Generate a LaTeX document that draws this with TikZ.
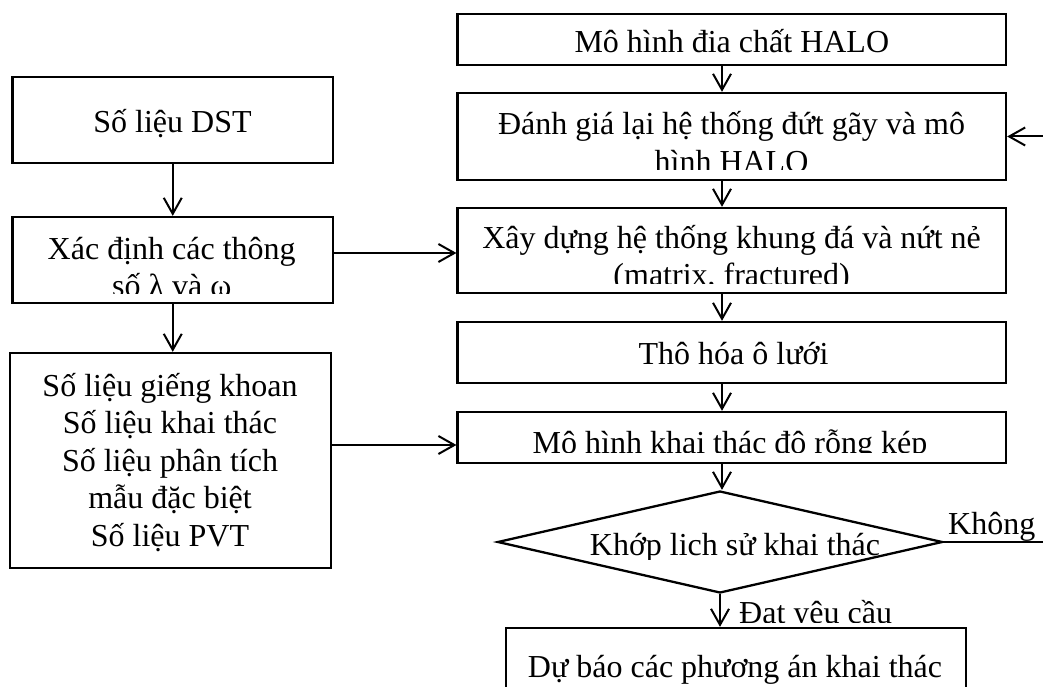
\documentclass[tikz,border=0pt]{standalone}
\usepackage{fontspec}
\setmainfont{Liberation Serif}
\usetikzlibrary{arrows.meta,shapes.geometric}
\begin{document}
\begin{tikzpicture}[x=1pt,y=-1pt,
  box/.style 2 args={draw,line width=2.3pt,inner sep=0pt,minimum width=#1pt,minimum height=#2pt},
  txt/.style={inner sep=0pt,anchor=base,font=\fontsize{32}{37.5}\selectfont},
  arr/.style={line width=2pt,-{Straight Barb[length=16pt,width=18pt,line width=2pt]}},
  ln/.style={line width=2pt}]
\useasboundingbox (0,0) rectangle (1043,687);
\clip (0,0) rectangle (1043,687);
% right column boxes
\node[box={548.4}{51}] (b1) at (731.8,39.5) {};
\node[box={548.4}{87}] (b2) at (731.8,136.5) {};
\node[box={548.4}{85}] (b3) at (731.8,250.5) {};
\node[box={548.4}{61}] (b4) at (731.8,352.5) {};
\node[box={548.4}{51}] (b5) at (731.8,437.5) {};
\node[draw,diamond,line width=2.3pt,inner sep=0pt,minimum width=445pt,minimum height=102pt] (dia) at (720,542) {};
\node[box={460}{112}] (fin) at (736,684) {};
% left column boxes
\node[box={320.5}{86}] (l1) at (172.75,120) {};
\node[box={320.5}{86}] (l2) at (172.75,260) {};
\node[box={321}{215}] (l3) at (170.5,460.5) {};
% texts
\node[txt] (t1) at (731.8,53) {Mô hình đia chất HALO};
\node[txt] (t2a) at (731.5,135) {Đánh giá lại hệ thống đứt gãy và mô};
\begin{scope}
\clip (457.6,93) rectangle (1006,170);
\node[txt] (t2b) at (731.5,172) {hình HALO};
\end{scope}
\node[txt] (t3a) at (731.6,248) {Xây dựng hệ thống khung đá và nứt nẻ};
\begin{scope}
\clip (457.6,208) rectangle (1006,283);
\node[txt] (t3b) at (731.6,285) {(matrix, fractured)};
\end{scope}
\node[txt] (t4) at (733.5,364) {Thô hóa ô lưới};
\begin{scope}
\clip (457.6,412) rectangle (1006,452);
\node[txt] (t5) at (730,453) {Mô hình khai thác đô rỗng kép};
\end{scope}
\begin{scope}
\clip (497,491) rectangle (942,559);
\node[txt] (t6) at (735,555) {Khớp lich sử khai thác};
\end{scope}
\node[txt] (t7) at (735,677) {Dự báo các phương án khai thác};
\node[txt] (l1t) at (172.5,133) {Số liệu DST};
\node[txt] (l2a) at (171.7,259) {Xác định các thông};
\begin{scope}
\clip (12.5,217) rectangle (333,293);
\node[txt] (l2b) at (171.7,296.5) {số λ và ω};
\end{scope}
\node[txt] (l3a) at (170,396) {Số liệu giếng khoan};
\node[txt] (l3b) at (170,433.5) {Số liệu khai thác};
\node[txt] (l3c) at (170,471) {Số liệu phân tích};
\node[txt] (l3d) at (170,508.5) {mẫu đặc biệt};
\node[txt] (l3e) at (170,546) {Số liệu PVT};
% labels
\begin{scope}
\clip (730,590) rectangle (1043,622);
\node[txt,anchor=base west] (ok) at (739,623) {Đat yêu cầu};
\end{scope}
\begin{scope}
\clip (942,490) rectangle (1043,541);
\node[txt,anchor=base west] (no) at (948,534) {Không};
\end{scope}
% connectors
\coordinate (ax) at (722,0);
\coordinate (ay1) at (0,253);
\coordinate (ay2) at (0,445);
\draw[arr] (b1.south -| ax) -- (b2.north -| ax);
\draw[arr] (b2.south -| ax) -- (b3.north -| ax);
\draw[arr] (b3.south -| ax) -- (b4.north -| ax);
\draw[arr] (b4.south -| ax) -- (b5.north -| ax);
\draw[arr] (b5.south -| ax) -- (dia.north -| ax);
\draw[arr] (dia.south) -- (fin.north -| dia.south);
\draw[arr] (l1.south) -- (l2.north);
\draw[arr] (l2.south) -- (l3.north -| l2.south);
\draw[arr] (l2.east |- ay1) -- (b3.west |- ay1);
\draw[arr] (l3.east |- ay2) -- (b5.west |- ay2);
\draw[arr] (dia.east) -- ++(160,0) |- (b2.east);
\end{tikzpicture}
\end{document}
